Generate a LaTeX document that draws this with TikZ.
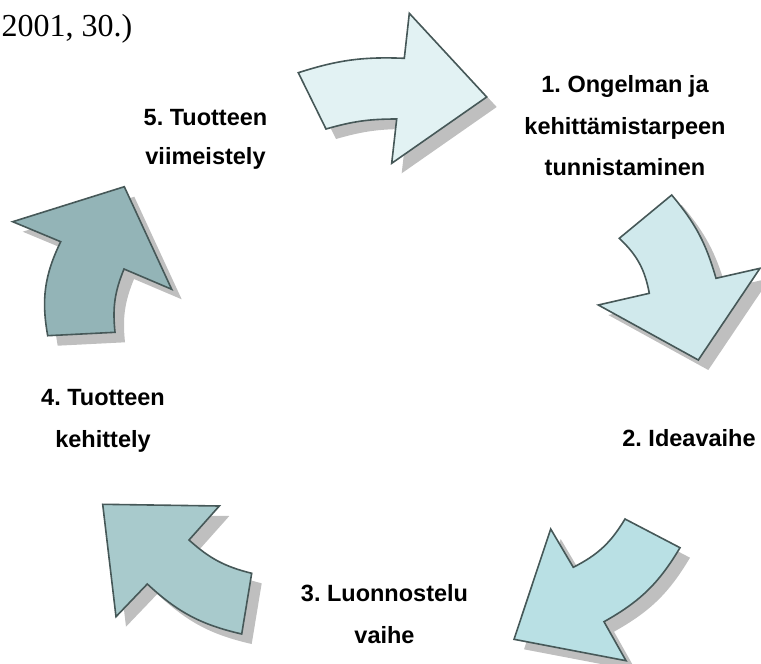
\documentclass[tikz,border=0pt]{standalone}
\usepackage{fontspec}
\setmainfont{Liberation Sans}
\newfontfamily\timesf{Liberation Serif}
\frenchspacing
\definecolor{aone}{HTML}{E2F2F3}
\definecolor{atwo}{HTML}{D0E9EC}
\definecolor{athree}{HTML}{B9E0E4}
\definecolor{afour}{HTML}{A8CACC}
\definecolor{afive}{HTML}{93B4B7}
\definecolor{edgec}{HTML}{465858}
\definecolor{shadowc}{HTML}{BFBFBF}
\tikzset{
  arrowshape/.style={draw=edgec, line width=1.6pt, line join=miter},
  shadowshape/.style={fill=shadowc, shift={(10,10)}},
  lbl/.style={anchor=base, inner sep=0pt, font=\fontsize{23.5}{28}\selectfont\bfseries\frenchspacing},
}
\def\arrowone{(298.3,72.7) to[bend left=10] (404.3,58.3) -- (409.3,13.3) -- (486.7,97) -- (391.7,163.3) -- (396.7,119) to[bend right=8] (326,129) -- cycle}
\def\arrowtwo{(619.3,238.3) -- (671.7,195) to[bend left=12] (716,278.3) -- (760,268.3) -- (698.3,360) -- (598.3,305) -- (649.3,293.3) to[bend right=18] cycle}
\def\arrowthree{(625,519) -- (680,547.7) to[bend left=15] (604,621.7) -- (626,660.7) -- (514,639.3) -- (550.7,529) -- (573.3,567.3) to[bend right=16] cycle}
\def\arrowfour{(102.7,504.3) -- (219.3,506) -- (189,540) to[bend right=14] (251.7,573.3) -- (241.7,634) to[bend left=15] (147.3,584) -- (116,616.7) -- cycle}
\def\arrowfive{(12.7,221.7) -- (124.3,186.7) -- (171.7,289.3) -- (124,269) to[bend right=14] (115,332.3) -- (47.7,335.7) to[bend left=18] (60.7,241.7) -- cycle}
\begin{document}
\begin{tikzpicture}[x=1pt,y=-1pt]
\useasboundingbox (0,0) rectangle (761,664);
% shadows
\fill[shadowshape] \arrowone;
\fill[shadowshape] \arrowtwo;
\fill[shadowshape] \arrowthree;
\fill[shadowshape] \arrowfour;
\fill[shadowshape] \arrowfive;
% arrows
\filldraw[arrowshape, fill=aone] \arrowone;
\filldraw[arrowshape, fill=atwo] \arrowtwo;
\filldraw[arrowshape, fill=athree] \arrowthree;
\filldraw[arrowshape, fill=afour] \arrowfour;
\filldraw[arrowshape, fill=afive] \arrowfive;
% citation
\node[anchor=base west, inner sep=0pt, font=\fontsize{32}{38}\selectfont\timesf\frenchspacing] (cite) at (1.5,36.7) {2001, 30.)};
% labels
\node[lbl] (l1a) at (625,92.3) {1. Ongelman ja};
\node[lbl] (l1b) at (625,134) {kehittämistarpeen};
\node[lbl] (l1c) at (625,175) {tunnistaminen};
\node[lbl] (l2a) at (689,446) {2. Ideavaihe};
\node[lbl] (l3a) at (384.5,601) {3. Luonnostelu};
\node[lbl] (l3b) at (384.5,643.3) {vaihe};
\node[lbl] (l4a) at (103,405) {4. Tuotteen};
\node[lbl] (l4b) at (103,447) {kehittely};
\node[lbl] (l5a) at (205.5,125) {5. Tuotteen};
\node[lbl] (l5b) at (205.5,164.5) {viimeistely};
\end{tikzpicture}
\end{document}
